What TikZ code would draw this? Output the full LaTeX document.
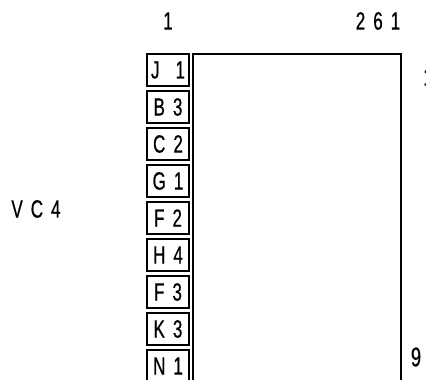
\documentclass[tikz,border=0pt]{standalone}
\usepackage{fontspec}
\setmainfont{Liberation Sans}[FakeStretch=0.68, WordSpace=1.7, FakeBold=0.6]
\usepackage{tikz}
\usetikzlibrary{positioning}

\begin{document}
\begin{tikzpicture}[
    x=0.5pt, y=-0.5pt,
    font=\fontsize{12.5}{14}\selectfont,
    pinbox/.style={rectangle, draw=black, line width=1pt, minimum width=21pt, minimum height=16pt, inner sep=0pt},
    tag/.style={inner sep=0pt},
]
\useasboundingbox (0,0) rectangle (426,379);
% Kopfzeile
\node[tag] (top1) at (168,21) {1};
\node[tag] (top261) at (378,21) {2 6 1};
\node[tag] (vc4) at (36,209) {V C 4};
% Gehaeuse
\draw[line width=1pt] (193,380) |- (401,54) -- (401,380);
% Anschluesse
\node[pinbox] (J1) at (168,70) {J\ \ 1};
\node[pinbox] (B3) at (168,107) {B 3};
\node[pinbox] (C2) at (168,144) {C 2};
\node[pinbox] (G1) at (168,181) {G 1};
\node[pinbox] (F2) at (168,218) {F 2};
\node[pinbox] (H4) at (168,255) {H 4};
\node[pinbox] (F3) at (168,292) {F 3};
\node[pinbox] (K3) at (168,329) {K 3};
\node[pinbox] (N1) at (168,366) {N 1};
% rechte Seite
\node[tag] (r1) at (428,77) {1};
\node[tag, font=\fontsize{13.5}{15}\selectfont] (r9) at (416,357) {9};
\end{tikzpicture}
\end{document}
